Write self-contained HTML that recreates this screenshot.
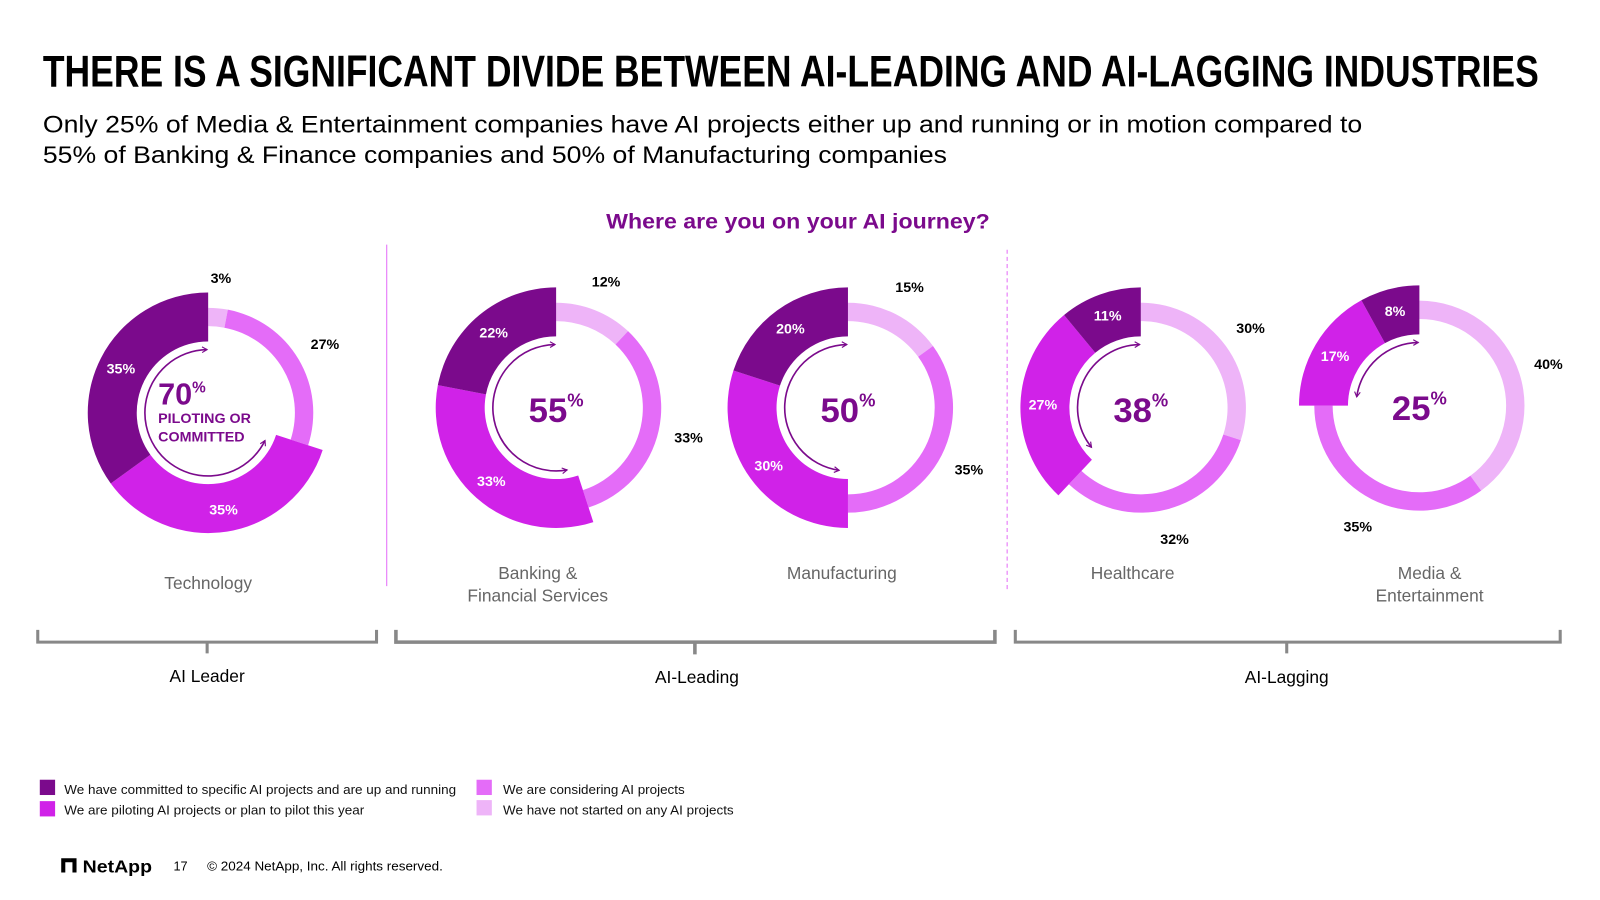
<!DOCTYPE html>
<html><head><meta charset="utf-8"><style>
html,body{margin:0;padding:0;background:#fff;width:1600px;height:900px;overflow:hidden}
svg{display:block}
.cond{font-family:"Liberation Sans Narrow","Liberation Sans",sans-serif;font-stretch:condensed;font-weight:bold}
.sans{font-family:"Liberation Sans",sans-serif}
</style></head><body>
<svg id="chart" width="1600" height="900" viewBox="0 0 1568 883" preserveAspectRatio="none" xmlns="http://www.w3.org/2000/svg">
<defs>
<marker id="ah" viewBox="0 0 10 10" refX="8" refY="5" markerWidth="7" markerHeight="7" orient="auto-start-reverse" markerUnits="userSpaceOnUse">
<path d="M1,1 L8,5 L1,9" fill="none" stroke="#7b0a8c" stroke-width="1.6"/></marker>
</defs>
<text class="cond" x="42" y="85" font-size="44" textLength="1466" lengthAdjust="spacingAndGlyphs" fill="#000">THERE IS A SIGNIFICANT DIVIDE BETWEEN AI-LEADING AND AI-LAGGING INDUSTRIES</text>
<text class="sans" x="42" y="130" font-size="24" textLength="1293" lengthAdjust="spacingAndGlyphs" fill="#000">Only 25% of Media &amp; Entertainment companies have AI projects either up and running or in motion compared to</text>
<text class="sans" x="42" y="160" font-size="24" textLength="886" lengthAdjust="spacingAndGlyphs" fill="#000">55% of Banking &amp; Finance companies and 50% of Manufacturing companies</text>
<text class="sans" x="782" y="224" font-size="21" font-weight="bold" text-anchor="middle" textLength="376" lengthAdjust="spacingAndGlyphs" fill="#7b0a8c">Where are you on your AI journey?</text>
<line x1="379" y1="240" x2="379" y2="575" stroke="#e46cf8" stroke-width="1"/>
<line x1="987" y1="245" x2="987" y2="578" stroke="#e46cf8" stroke-width="1" stroke-dasharray="4,3"/>
<g id="donuts"></g>
<g fill="none" stroke="#888">
<path d="M37,618 V630 H369 V618 M203,630 V641" stroke-width="3"/>
<path d="M388,618 V630 H975 V618 M681,630 V642" stroke-width="3.5"/>
<path d="M995,618 V630 H1529 V618 M1261,630 V641" stroke-width="3"/>
</g>
<g class="sans" font-size="17" fill="#000" text-anchor="middle">
<text x="203" y="669">AI Leader</text>
<text x="683" y="670">AI-Leading</text>
<text x="1261" y="670">AI-Lagging</text>
</g>
<g class="sans" font-size="13" fill="#111">
<rect x="39" y="765" width="15" height="15" fill="#7b0a8c"/>
<text x="63" y="779" textLength="384" lengthAdjust="spacingAndGlyphs">We have committed to specific AI projects and are up and running</text>
<rect x="39" y="786" width="15" height="15" fill="#d022e8"/>
<text x="63" y="799" textLength="294" lengthAdjust="spacingAndGlyphs">We are piloting AI projects or plan to pilot this year</text>
<rect x="467" y="765" width="15" height="15" fill="#e46cf8"/>
<text x="493" y="779" textLength="178" lengthAdjust="spacingAndGlyphs">We are considering AI projects</text>
<rect x="467" y="785" width="15" height="15" fill="#eeb4f8"/>
<text x="493" y="799" textLength="226" lengthAdjust="spacingAndGlyphs">We have not started on any AI projects</text>
</g>
<g>
<path d="M60,842 H75 V856 H71 V846 H64 V856 H60 Z" fill="#000"/>
<text class="sans" x="81" y="856" font-size="17" font-weight="bold" fill="#000" textLength="68" lengthAdjust="spacingAndGlyphs">NetApp</text>
<text class="sans" x="170" y="854" font-size="12.5" fill="#000">17</text>
<text class="sans" x="203" y="854" font-size="12.5" fill="#000" textLength="231" lengthAdjust="spacingAndGlyphs">© 2024 NetApp, Inc. All rights reserved.</text>
</g>
</svg>
<script>
const industries = ["Technology", "Banking & Financial Services", "Manufacturing", "Healthcare", "Media & Entertainment"];
const notStarted = [3, 12, 15, 30, 40];
const considering = [27, 33, 35, 32, 35];
const piloting = [35, 33, 30, 27, 17];
const committed = [35, 22, 20, 11, 8];

const centers = [[204,405],[545,400],[831,400],[1118,400],[1391,398]];
const nameLines = [["Technology"],["Banking &","Financial Services"],["Manufacturing"],["Healthcare"],["Media &","Entertainment"]];
const nameY = [[578],[568,590],[568],[568],[568,590]];
const nameX = [204,527,825,1110,1401];
const colors = ["#eeb4f8","#e46cf8","#d022e8","#7b0a8c"];
const NS = "http://www.w3.org/2000/svg";
const root = document.getElementById("donuts");
function pt(cx,cy,r,a){const t=a*Math.PI/180;return [cx+r*Math.sin(t),cy-r*Math.cos(t)];}
function sector(cx,cy,r0,r1,a0,a1){
  const la=(a1-a0)>180?1:0;
  const p0=pt(cx,cy,r1,a0),p1=pt(cx,cy,r1,a1),p2=pt(cx,cy,r0,a1),p3=pt(cx,cy,r0,a0);
  return `M${p0[0]},${p0[1]} A${r1},${r1} 0 ${la} 1 ${p1[0]},${p1[1]} L${p2[0]},${p2[1]} A${r0},${r0} 0 ${la} 0 ${p3[0]},${p3[1]} Z`;
}
function mk(tag,attrs,parent){const e=document.createElementNS(NS,tag);for(const k in attrs)e.setAttribute(k,attrs[k]);(parent||root).appendChild(e);return e;}
const segNames=["not-started","considering","piloting","committed"];
industries.forEach((ind,i)=>{
  const [cx,cy]=centers[i];
  const g=mk("g",{});
  
  
  const vals=[notStarted[i],considering[i],piloting[i],committed[i]];
  const total=vals.reduce((a,b)=>a+b,0);
  let acc=0;
  vals.forEach((v,j)=>{
    const a0=acc/total*360, a1=(acc+v)/total*360; acc+=v;
    const big=j>=2;
    const r0=big?70:85, r1=big?118:103;
    const p=mk("path",{d:sector(cx,cy,r0,r1,a0,a1),fill:colors[j]},g);
    
    
    const am=(a0+a1)/2;
    const lr=big?96:133;
    const lp=pt(cx,cy,lr,am);
    const t=mk("text",{x:lp[0],y:lp[1]+5,"text-anchor":"middle","font-size":"14",fill:big?"#fff":"#000",class:"cond"},g);
    
    
    t.textContent=v+"%";
  });
  const aStart=(vals[0]+vals[1])/total*360+8, ra=62;
  const s=pt(cx,cy,ra,aStart), e=pt(cx,cy,ra,359);
  const la=(360-aStart)>180?1:0;
  const ar=mk("path",{d:`M${s[0]},${s[1]} A${ra},${ra} 0 ${la} 1 ${e[0]},${e[1]}`,fill:"none",stroke:"#7b0a8c","stroke-width":"1.6","marker-start":"url(#ah)","marker-end":"url(#ah)"},g);
  
  
  const sum=piloting[i]+committed[i];
  if(i===0){
    const t=mk("text",{x:cx-49,y:cy-8,"font-size":"30",fill:"#7b0a8c",class:"cond"},g);
    
    
    t.innerHTML=sum+'<tspan font-size="15" dy="-12">%</tspan>';
    const l1=mk("text",{x:cx-49,y:cy+10,"font-size":"14",fill:"#7b0a8c",class:"cond"},g);
    
    
    l1.textContent="PILOTING OR";
    const l2=mk("text",{x:cx-49,y:cy+28,"font-size":"14",fill:"#7b0a8c",class:"cond"},g);
    
    
    l2.textContent="COMMITTED";
  } else {
    const t=mk("text",{x:cx,y:cy+14,"font-size":"34","text-anchor":"middle",fill:"#7b0a8c",class:"cond"},g);
    
    
    t.innerHTML=sum+'<tspan font-size="18" dy="-15">%</tspan>';
  }
  nameLines[i].forEach((ln,k)=>{
    const t=mk("text",{x:nameX[i],y:nameY[i][k],"font-size":"17","text-anchor":"middle",fill:"#666",class:"sans"},g);
    
    
    t.textContent=ln;
  });
});
</script>
</body></html>
